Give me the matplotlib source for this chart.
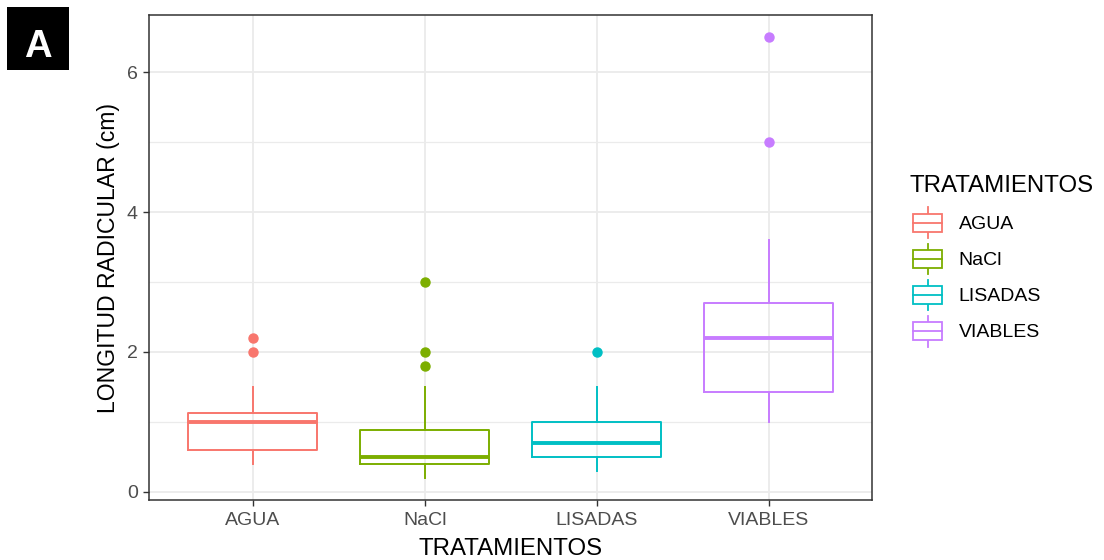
import matplotlib
matplotlib.use("Agg")
import matplotlib.pyplot as plt
from matplotlib.legend_handler import HandlerBase
from matplotlib.patches import Rectangle
from matplotlib.lines import Line2D

# Root length per treatment: box statistics and outlying observations
categories = ["AGUA", "NaCl", "LISADAS", "VIABLES"]
colors = ["#F8766D", "#7CAE00", "#00BFC4", "#C77CFF"]
whisker_low = [0.4, 0.2, 0.3, 1.0]
q1 = [0.6, 0.4, 0.5, 1.43]
median = [1.0, 0.5, 0.7, 2.2]
q3 = [1.13, 0.89, 1.0, 2.7]
whisker_high = [1.5, 1.5, 1.5, 3.6]
outliers = [[2.0, 2.2], [1.8, 2.0, 3.0], [2.0], [5.0, 6.5]]
y_ticks = [0, 2, 4, 6]
y_minor = [1, 3, 5]

plt.rcParams['font.family'] = ['Liberation Sans', 'DejaVu Sans']

fig = plt.figure(figsize=(11.04, 5.6), dpi=100)
ax = fig.add_axes([0.1354, 0.1071, 0.6544, 0.8661])

positions = list(range(1, len(categories) + 1))
for i, (pos, col) in enumerate(zip(positions, colors)):
    stats = [dict(med=median[i], q1=q1[i], q3=q3[i],
                  whislo=whisker_low[i], whishi=whisker_high[i],
                  fliers=outliers[i])]
    ax.bxp(stats, positions=[pos], widths=0.75, showcaps=False,
           boxprops=dict(color=col, linewidth=1.4),
           whiskerprops=dict(color=col, linewidth=1.4),
           medianprops=dict(color=col, linewidth=2.8, solid_capstyle='butt'),
           flierprops=dict(marker='o', markerfacecolor=col, markeredgecolor=col,
                           markersize=6.5),
           manage_ticks=False, zorder=3)

ax.set_xlim(0.4, 4.6)
ax.set_ylim(-0.115, 6.815)
ax.set_xticks(positions)
ax.set_xticklabels(categories)
ax.set_yticks(y_ticks)
ax.set_yticks(y_minor, minor=True)

ax.grid(True, which='major', color='#EBEBEB', linewidth=1.3, zorder=0)
ax.grid(True, which='minor', axis='y', color='#EBEBEB', linewidth=0.9, zorder=0)
ax.set_axisbelow(True)
ax.tick_params(axis='both', which='major', length=4.5, width=1.0, color='#333333',
               labelcolor='#4D4D4D', labelsize=14, pad=3.8)
ax.tick_params(axis='y', which='minor', length=0)
for sp in ax.spines.values():
    sp.set_color('#333333')
    sp.set_linewidth(1.1)

ax.set_xlabel("TRATAMIENTOS", fontsize=17.3, labelpad=6.5)
ax.set_ylabel("LONGITUD RADICULAR (cm)", fontsize=16.6, labelpad=5)


class BoxKey(HandlerBase):
    def create_artists(self, legend, orig_handle, xdescent, ydescent,
                       width, height, fontsize, trans):
        col = orig_handle.get_color()
        x0, y0 = -xdescent, -ydescent
        bh = height * 0.57
        by = y0 + (height - bh) / 2
        cx = x0 + width / 2
        rect = Rectangle((x0, by), width, bh, facecolor='white', edgecolor=col,
                         linewidth=1.3, transform=trans)
        med = Line2D([x0, x0 + width], [y0 + height / 2] * 2, color=col,
                     linewidth=1.3, transform=trans)
        wl = Line2D([cx, cx], [y0, by], color=col, linewidth=1.3, transform=trans)
        wh = Line2D([cx, cx], [by + bh, y0 + height], color=col, linewidth=1.3,
                    transform=trans)
        return [wl, wh, rect, med]


handles = [Line2D([], [], color=c) for c in colors]
leg = fig.legend(handles, categories, handler_map={Line2D: BoxKey()},
                 loc='center left', bbox_to_anchor=(913 / 1104, 1 - 277 / 560),
                 frameon=False, fontsize=14, handlelength=1.5, handleheight=2.05,
                 labelspacing=0.28, handletextpad=0.85, borderpad=0,
                 borderaxespad=0)
fig.text(910 / 1104, 1 - 183 / 560, "TRATAMIENTOS", fontsize=17.3,
         ha='left', va='center_baseline')

# Panel tag in the top-left corner
fig.patches.append(Rectangle((0.0061, 0.875), 0.0567, 0.112, facecolor='black',
                             edgecolor='none', transform=fig.transFigure))
fig.text(0.0344, 1 - 57.3 / 560, "A", color='white', fontsize=27.5,
         fontweight='bold', ha='center', va='baseline')

fig.savefig("out.png", dpi=100)
